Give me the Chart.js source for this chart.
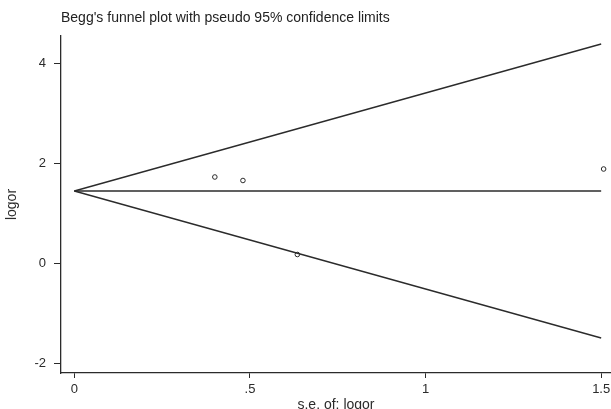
<!DOCTYPE html>
<html>
<head>
<meta charset="utf-8">
<script src="https://cdn.jsdelivr.net/npm/chart.js@4.4.1/dist/chart.umd.min.js"></script>
<style>
  html, body { margin: 0; padding: 0; background: #fff; }
  #wrap { width: 611px; height: 409px; position: relative; }
</style>
</head>
<body>
<div id="wrap"><canvas id="funnelChart"></canvas></div>
<script>
// study estimates (se, log odds ratio)
const seStudy = [0.40, 0.48, 0.635, 1.507];
const logorStudy = [1.72, 1.65, 0.17, 1.88];

// pseudo 95% limits, end points
const limitSe = [0, 1.5];
const upperLimit = [1.44, 4.38];
const lowerLimit = [1.44, -1.50];
const pooledLine = [1.44, 1.44];

const xTicks = [0, 0.5, 1, 1.5];
const xTickLabels = ["0", ".5", "1", "1.5"];
const yTicks = [-2, 0, 2, 4];

const titleText = "Begg's funnel plot with pseudo 95% confidence limits";
const ink = "#2b2b2b";
const fam = "'Liberation Sans', Arial, sans-serif";

const toPts = (xs, ys) => xs.map((x, i) => ({ x: x, y: ys[i] }));

const lineSet = (ys) => ({
  data: toPts(limitSe, ys),
  showLine: true,
  borderColor: ink,
  borderWidth: 1.3,
  pointRadius: 0,
  fill: false,
  clip: false,
});

// title drawn in the top-left corner like the stata output
const titlePlugin = {
  id: "cornerTitle",
  afterDraw(chart) {
    const c = chart.ctx;
    c.save();
    c.font = "14px " + fam;
    c.fillStyle = "#222";
    c.textBaseline = "alphabetic";
    c.fillText(titleText, 61, 22);
    c.restore();
  },
};

const ctx = document.getElementById("funnelChart").getContext("2d");
new Chart(ctx, {
  type: "scatter",
  data: {
    datasets: [
      lineSet(upperLimit),
      lineSet(lowerLimit),
      lineSet(pooledLine),
      {
        data: toPts(seStudy, logorStudy),
        pointStyle: "circle",
        pointRadius: 2.3,
        pointBorderWidth: 1,
        pointBorderColor: ink,
        pointBackgroundColor: "#fff",
        showLine: false,
        clip: false,
      },
    ],
  },
  plugins: [titlePlugin],
  options: {
    responsive: true,
    maintainAspectRatio: false,
    animation: false,
    layout: { autoPadding: false, padding: { top: 36, right: 0, left: 0, bottom: 0 } },
    plugins: {
      legend: { display: false },
      tooltip: { enabled: false },
    },
    scales: {
      x: {
        type: "linear",
        min: -0.038,
        max: 1.528,
        afterBuildTicks: (s) => { s.ticks = xTicks.map((v) => ({ value: v })); },
        afterFit: (s) => { s.height = 36; s.paddingRight = 0; s.paddingLeft = 0; },
        ticks: {
          autoSkip: false,
          maxRotation: 0,
          padding: 4,
          color: ink,
          font: { family: fam, size: 13 },
          callback: (v) => xTickLabels[xTicks.indexOf(v)] ?? "",
        },
        grid: { drawOnChartArea: false, drawTicks: true, tickLength: 5, color: ink },
        border: { display: true, color: ink, width: 1.3 },
        title: {
          display: true,
          text: "s.e. of: logor",
          color: ink,
          font: { family: fam, size: 14 },
          padding: { top: 0, bottom: -5 },
        },
      },
      y: {
        type: "linear",
        min: -2.2,
        max: 4.54,
        afterBuildTicks: (s) => { s.ticks = yTicks.map((v) => ({ value: v })); },
        afterFit: (s) => { s.width = 61; },
        ticks: {
          autoSkip: false,
          padding: 8,
          color: ink,
          font: { family: fam, size: 13 },
          callback: (v) => String(v),
        },
        grid: { drawOnChartArea: false, drawTicks: true, tickLength: 7, color: ink },
        border: { display: true, color: ink, width: 1.3 },
        title: {
          display: true,
          text: "logor",
          color: ink,
          font: { family: fam, size: 14 },
          padding: { top: 4, bottom: 0 },
        },
      },
    },
  },
});
</script>
</body>
</html>
